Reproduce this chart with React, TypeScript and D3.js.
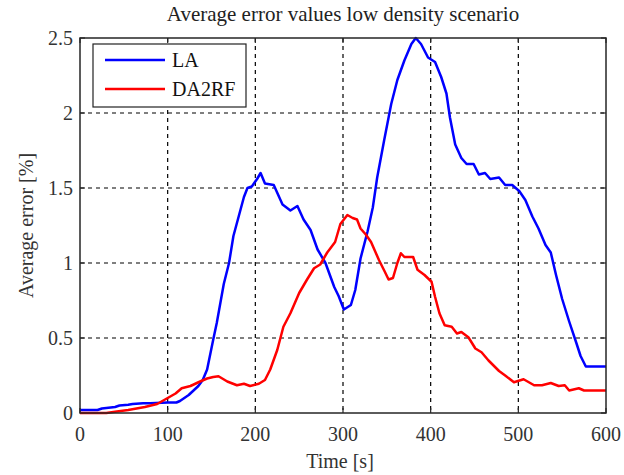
import React from "react";
import * as d3 from "d3";

const title = "Average error values low density scenario";
const xLabel = "Time [s]";
const yLabel = "Average error [%]";
const xTicks = [0, 100, 200, 300, 400, 500, 600];
const yTicks = [0, 0.5, 1, 1.5, 2, 2.5];
const yTickLabels = ["0", "0.5", "1", "1.5", "2", "2.5"];
const seriesNames = ["LA", "DA2RF"];
const seriesColors = ["#0000ff", "#ff0000"];

const laTime = [0, 20, 25, 40, 45, 55, 60, 72, 80, 100, 110, 114, 124, 135, 140, 145, 152, 156, 164, 170, 175, 181, 187, 191, 196, 202, 206, 211, 221, 231, 240, 248, 255, 263, 271, 280, 290, 295, 301, 309, 314, 320, 328, 334, 339, 347, 355, 362, 370, 378, 383, 389, 397, 405, 412, 418, 422, 428, 435, 441, 449, 455, 462, 468, 478, 485, 493, 501, 508, 516, 523, 531, 537, 543, 550, 558, 566, 571, 577, 600];
const laValue = [0.02, 0.02, 0.03, 0.04, 0.05, 0.055, 0.06, 0.065, 0.065, 0.07, 0.07, 0.08, 0.12, 0.18, 0.22, 0.29, 0.49, 0.6, 0.86, 1.0, 1.18, 1.31, 1.44, 1.5, 1.51, 1.56, 1.6, 1.53, 1.52, 1.39, 1.35, 1.38, 1.29, 1.22, 1.09, 1.0, 0.84, 0.78, 0.69, 0.72, 0.82, 1.03, 1.21, 1.37, 1.57, 1.82, 2.06, 2.22, 2.35, 2.46, 2.5, 2.46, 2.37, 2.34, 2.24, 2.13, 1.97, 1.79, 1.7, 1.66, 1.66, 1.59, 1.6, 1.56, 1.57, 1.52, 1.52, 1.48, 1.42, 1.31, 1.23, 1.12, 1.07, 0.92, 0.76, 0.61, 0.47, 0.38, 0.31, 0.31];

const daTime = [0, 30, 42, 55, 74, 88, 97, 109, 116, 126, 137, 145, 152, 158, 168, 179, 187, 194, 204, 211, 217, 225, 232, 240, 250, 259, 267, 274, 282, 291, 297, 305, 311, 316, 320, 326, 332, 341, 347, 352, 357, 362, 366, 370, 380, 385, 393, 401, 405, 410, 416, 424, 430, 435, 443, 451, 458, 466, 478, 485, 495, 506, 518, 527, 537, 546, 553, 558, 569, 575, 600];
const daValue = [0.0, 0.0, 0.01, 0.02, 0.04, 0.06, 0.09, 0.13, 0.165, 0.18, 0.21, 0.23, 0.24, 0.245, 0.21, 0.185, 0.195, 0.18, 0.195, 0.22, 0.29, 0.42, 0.575, 0.665, 0.8, 0.89, 0.965, 0.99, 1.07, 1.14, 1.26, 1.32, 1.3, 1.29, 1.23, 1.19, 1.14, 1.02, 0.95, 0.89, 0.9, 1.0, 1.065, 1.04, 1.04, 0.955, 0.92, 0.875, 0.775, 0.665, 0.585, 0.575, 0.53, 0.54, 0.505, 0.43, 0.405, 0.35, 0.28, 0.25, 0.205, 0.225, 0.185, 0.185, 0.2, 0.18, 0.185, 0.15, 0.165, 0.15, 0.15];

const W = 624;
const H = 475;
const M = { left: 80, right: 606, top: 38, bottom: 413 };
const FONT = "'Liberation Serif', 'Times New Roman', serif";

export default function App() {
  const x = d3.scaleLinear().domain([0, 600]).range([M.left, M.right]);
  const y = d3.scaleLinear().domain([0, 2.5]).range([M.bottom, M.top]);
  const line = d3
    .line<[number, number]>()
    .x((d) => x(d[0]))
    .y((d) => y(d[1]));
  const series = [
    laTime.map((t, i) => [t, laValue[i]] as [number, number]),
    daTime.map((t, i) => [t, daValue[i]] as [number, number]),
  ];
  const axisColor = "#262626";
  const tickLen = 5;

  return (
    <svg width={W} height={H} style={{ position: "absolute", left: 0, top: 0, background: "#fff" }}>
      <rect x={0} y={0} width={W} height={H} fill="#fff" />
      <text x={(M.left + M.right) / 2} y={21} textAnchor="middle" fontFamily={FONT} fontSize={21} fill="#222">
        {title}
      </text>
      {/* grid */}
      {xTicks.slice(1, -1).map((t) => (
        <line key={"gx" + t} x1={x(t)} x2={x(t)} y1={M.top} y2={M.bottom} stroke="#000" strokeWidth={1.2} strokeDasharray="4,4" />
      ))}
      {yTicks.slice(1, -1).map((t) => (
        <line key={"gy" + t} x1={M.left} x2={M.right} y1={y(t)} y2={y(t)} stroke="#000" strokeWidth={1.2} strokeDasharray="4,4" />
      ))}
      {/* ticks */}
      {xTicks.map((t) => (
        <g key={"tx" + t}>
          <line x1={x(t)} x2={x(t)} y1={M.bottom} y2={M.bottom - tickLen} stroke={axisColor} strokeWidth={1.2} />
          <line x1={x(t)} x2={x(t)} y1={M.top} y2={M.top + tickLen} stroke={axisColor} strokeWidth={1.2} />
          <text x={x(t)} y={441} textAnchor="middle" fontFamily={FONT} fontSize={20} fill="#333">
            {String(t)}
          </text>
        </g>
      ))}
      {yTicks.map((t, i) => (
        <g key={"ty" + t}>
          <line x1={M.left} x2={M.left + tickLen} y1={y(t)} y2={y(t)} stroke={axisColor} strokeWidth={1.2} />
          <line x1={M.right} x2={M.right - tickLen} y1={y(t)} y2={y(t)} stroke={axisColor} strokeWidth={1.2} />
          <text x={73} y={y(t) + 7} textAnchor="end" fontFamily={FONT} fontSize={20} fill="#333">
            {yTickLabels[i]}
          </text>
        </g>
      ))}
      {/* series */}
      {series.map((s, i) => (
        <path key={"s" + i} d={line(s) || ""} fill="none" stroke={seriesColors[i]} strokeWidth={2.5} strokeLinejoin="round" />
      ))}
      {/* axes box */}
      <rect x={M.left} y={M.top} width={M.right - M.left} height={M.bottom - M.top} fill="none" stroke={axisColor} strokeWidth={1.5} />
      {/* legend */}
      <rect x={93} y={44} width={153} height={63} fill="#fff" stroke="#222" strokeWidth={1.2} />
      {seriesNames.map((n, i) => (
        <g key={"lg" + i}>
          <line x1={105} x2={165} y1={60 + i * 29} y2={60 + i * 29} stroke={seriesColors[i]} strokeWidth={2.5} />
          <text x={172} y={67 + i * 29} fontFamily={FONT} fontSize={20} fill="#111">
            {n}
          </text>
        </g>
      ))}
      <text x={(M.left + M.right) / 2 - 3} y={468} textAnchor="middle" fontFamily={FONT} fontSize={20} fill="#333">
        {xLabel}
      </text>
      <text transform={`translate(33, ${(M.top + M.bottom) / 2}) rotate(-90)`} textAnchor="middle" fontFamily={FONT} fontSize={20} fill="#333">
        {yLabel}
      </text>
    </svg>
  );
}
